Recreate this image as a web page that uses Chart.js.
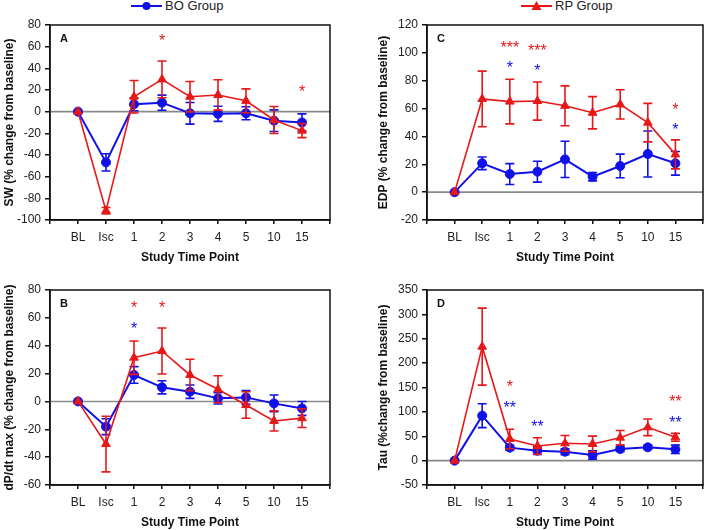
<!DOCTYPE html>
<html>
<head>
<meta charset="utf-8">
<script src="https://cdn.jsdelivr.net/npm/chart.js@4.4.0/dist/chart.umd.min.js"></script>
<style>
  html, body { margin: 0; padding: 0; background: #fff; }
  body { position: relative; width: 709px; height: 530px; overflow: hidden; font-family: 'Liberation Sans', Arial, sans-serif; }
  canvas { position: absolute; }
  .legend { position: absolute; top: -2px; font-size: 13px; color: #222; display: flex; align-items: center; }
  .legend svg { margin-right: 3px; }
</style>
</head>
<body>
<div class="legend" style="left:131px">
  <svg width="31" height="12"><line x1="0" y1="6" x2="31" y2="6" stroke="#1010e8" stroke-width="2"/><circle cx="15.5" cy="6" r="4" fill="#1010e8"/></svg>BO Group
</div>
<div class="legend" style="left:521px">
  <svg width="31" height="12"><line x1="0" y1="6" x2="31" y2="6" stroke="#e81818" stroke-width="2"/><polygon points="15.5,1 20.5,10 10.5,10" fill="#e81818"/></svg>RP Group
</div>
<canvas id="chartA" width="352" height="265" style="left:0;top:0"></canvas>
<canvas id="chartB" width="352" height="265" style="left:0;top:265px"></canvas>
<canvas id="chartC" width="335" height="265" style="left:374px;top:0"></canvas>
<canvas id="chartD" width="335" height="265" style="left:374px;top:265px"></canvas>
<script>
const BLUE = '#1010e8';
const RED  = '#e81818';

const timeLabels = ['BL', 'Isc', '1', '2', '3', '4', '5', '10', '15'];

// A - SW
const swBO     = [0, -46.8, 6.8, 8.3, -1.5, -2, -1.5, -8.3, -10];
const swBOErr  = [0, 8, 6, 7, 10, 7, 6, 10, 8];
const swRP     = [0, -91.4, 13.8, 29.8, 13.8, 15.4, 10, -7.7, -17.5];
const swRPErr  = [0, 3, 15, 17, 14, 14, 11, 12.5, 6.5];
const swStars  = [['2', 69, '*', 'RP'], ['15', 22.5, '*', 'RP']];

// B - dP/dt max
const dpBO     = [0, -18.1, 19, 10.1, 7, 2.2, 2.9, -1.4, -5];
const dpBOErr  = [0, 5.7, 6, 4.7, 4.8, 4, 5, 6, 5];
const dpRP     = [0, -30.6, 31.4, 36.2, 19, 8.7, -2.6, -14, -12];
const dpRPErr  = [0, 20, 12, 16.5, 11.3, 9.7, 9.5, 7.2, 6.7];
const dpStars  = [['1', 70.4, '*', 'RP'], ['2', 70.4, '*', 'RP'], ['1', 55.3, '*', 'BO']];

// C - EDP
const edpBO    = [0, 20.7, 13, 14.7, 23.5, 11.1, 18.8, 27.4, 20.7];
const edpBOErr = [0, 4.5, 7.5, 7.5, 13, 3, 8.5, 16.5, 8.5];
const edpRP    = [0, 66.9, 65, 65.4, 62, 57, 63, 49.9, 27.1];
const edpRPErr = [0, 20, 16, 13.7, 14.3, 11.6, 10.5, 13.8, 10.4];
const edpStars = [['1', 106.8, '***', 'RP'], ['2', 104.9, '***', 'RP'], ['1', 92.4, '*', 'BO'],
                  ['2', 90, '*', 'BO'], ['15', 62.5, '*', 'RP'], ['15', 48.2, '*', 'BO']];

// D - Tau
const tauBO    = [0, 92.2, 26.6, 20.4, 18.4, 11.6, 23.9, 27.3, 23.2];
const tauBOErr = [0, 24.6, 5, 7.8, 6, 8.5, 5, 4.4, 8.5];
const tauRP    = [0, 233.8, 44.4, 30, 35.5, 34.2, 47.1, 68.3, 47.8];
const tauRPErr = [0, 79, 20, 17, 16, 16, 14.7, 17, 8];
const tauStars = [['1', 160.5, '*', 'RP'], ['1', 117.5, '**', 'BO'], ['2', 78.6, '**', 'BO'],
                  ['15', 129, '**', 'RP'], ['15', 86.7, '**', 'BO']];

const FONT = "'Liberation Sans', Arial, sans-serif";
Chart.defaults.font.family = FONT;
Chart.defaults.font.size = 12;
Chart.defaults.color = '#222';

const toPoints = arr => arr.map((v, i) => ({ x: i + 1, y: v }));

// error bars drawn right before each dataset so markers sit on top
const errorBars = {
    id: 'errorBars',
    beforeDatasetDraw(chart, args) {
        const ds = chart.data.datasets[args.index];
        if (!ds.err) return;
        const { ctx, scales: { x, y } } = chart;
        ctx.save();
        ctx.strokeStyle = ds.borderColor;
        ctx.lineWidth = 1.6;
        ds.data.forEach((p, i) => {
            const e = ds.err[i];
            if (!e) return;
            const px = x.getPixelForValue(p.x);
            const top = y.getPixelForValue(p.y + e);
            const bot = y.getPixelForValue(p.y - e);
            ctx.beginPath();
            ctx.moveTo(px, top); ctx.lineTo(px, bot);
            ctx.moveTo(px - 4.5, top); ctx.lineTo(px + 4.5, top);
            ctx.moveTo(px - 4.5, bot); ctx.lineTo(px + 4.5, bot);
            ctx.stroke();
        });
        ctx.restore();
    }
};

const frame = {
    id: 'frame',
    beforeDatasetsDraw(chart) {
        const { ctx, chartArea: a, scales: { y } } = chart;
        const y0 = y.getPixelForValue(0);
        ctx.save();
        ctx.strokeStyle = '#8a8a8a';
        ctx.lineWidth = 1.6;
        ctx.beginPath();
        ctx.moveTo(a.left, y0); ctx.lineTo(a.right, y0);
        ctx.stroke();
        ctx.restore();
    },
    afterDatasetsDraw(chart, args, opts) {
        const { ctx, chartArea: a, scales: { x, y } } = chart;
        ctx.save();
        ctx.strokeStyle = '#111';
        ctx.lineWidth = 1.5;
        ctx.strokeRect(a.left, a.top, a.right - a.left, a.bottom - a.top);
        // panel letter
        ctx.fillStyle = '#111';
        ctx.font = 'bold 11px ' + FONT;
        ctx.textAlign = 'left';
        ctx.textBaseline = 'alphabetic';
        ctx.fillText(opts.letter, a.left + 10, a.top + 17);
        // significance stars
        ctx.font = '16px ' + FONT;
        ctx.textAlign = 'center';
        opts.stars.forEach(([cat, val, txt, grp]) => {
            const px = x.getPixelForValue(timeLabels.indexOf(cat) + 1);
            const py = y.getPixelForValue(val);
            ctx.fillStyle = grp === 'RP' ? RED : BLUE;
            ctx.fillText(txt, px, py + 9.5);
        });
        ctx.restore();
    }
};

function renderPanel(canvasId, letter, yTitle, yMin, yMax, yStep, yWidth, padRight, bo, boErr, rp, rpErr, stars) {
    const ctx = document.getElementById(canvasId);
    return new Chart(ctx, {
        type: 'line',
        data: {
            datasets: [
                { label: 'RP Group', data: toPoints(rp), err: rpErr, borderColor: RED, backgroundColor: RED,
                  borderWidth: 1.6, pointStyle: 'triangle', pointRadius: 5, pointBorderWidth: 1, tension: 0 },
                { label: 'BO Group', data: toPoints(bo), err: boErr, borderColor: BLUE, backgroundColor: BLUE,
                  borderWidth: 2, pointStyle: 'circle', pointRadius: 4.5, pointBorderWidth: 1, tension: 0 }
            ]
        },
        options: {
            responsive: false, animation: false,
            layout: { padding: { top: 25, right: padRight, left: 0, bottom: 0 } },
            plugins: {
                legend: { display: false }, tooltip: { enabled: false },
                frame: { letter, stars }
            },
            scales: {
                x: {
                    type: 'linear', min: 0, max: 10,
                    afterFit: s => { s.height = 45; },
                    afterBuildTicks: s => { s.ticks = [0,1,2,3,4,5,6,7,8,9,10].map(v => ({ value: v })); },
                    ticks: { autoSkip: false, maxRotation: 0, padding: 6, color: '#222',
                             callback: v => timeLabels[v - 1] ?? '' },
                    grid: { drawOnChartArea: false, tickLength: 4, color: '#111', lineWidth: 1.5 },
                    border: { color: '#111', width: 1.5 },
                    title: { display: true, text: 'Study Time Point', font: { weight: 'bold', size: 12 },
                             color: '#111', padding: { top: 0, bottom: 0 } }
                },
                y: {
                    min: yMin, max: yMax,
                    afterFit: s => { s.width = yWidth; },
                    ticks: { stepSize: yStep, padding: 4, color: '#222' },
                    grid: { drawOnChartArea: false, tickLength: 5, color: '#111', lineWidth: 1.5 },
                    border: { color: '#111', width: 1.5 },
                    title: { display: true, text: yTitle, font: { weight: 'bold', size: 12 },
                             color: '#111', padding: { top: 2, bottom: 0 } }
                }
            }
        },
        plugins: [errorBars, frame]
    });
}

renderPanel('chartA', 'A', 'SW (% change from baseline)', -100, 80, 20, 50, 22, swBO, swBOErr, swRP, swRPErr, swStars);
renderPanel('chartB', 'B', 'dP/dt max (% change from baseline)', -60, 80, 20, 50, 22, dpBO, dpBOErr, dpRP, dpRPErr, dpStars);
renderPanel('chartC', 'C', 'EDP (% change from baseline)', -20, 120, 20, 53, 2, edpBO, edpBOErr, edpRP, edpRPErr, edpStars);
renderPanel('chartD', 'D', 'Tau (%change from baseline)', -50, 350, 50, 53, 2, tauBO, tauBOErr, tauRP, tauRPErr, tauStars);
</script>
</body>
</html>
